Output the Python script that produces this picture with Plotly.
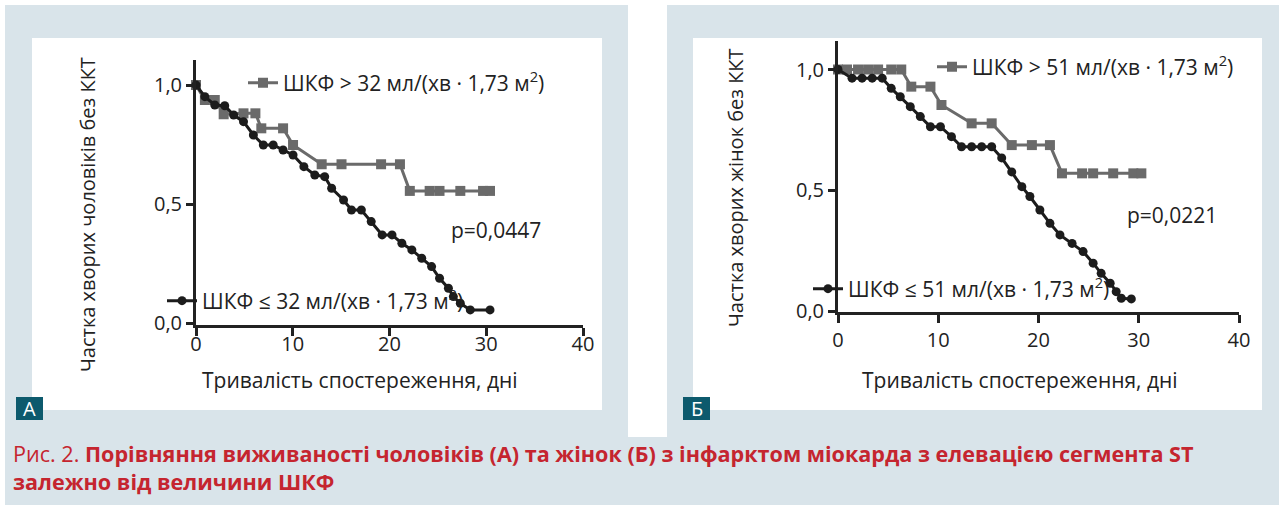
import plotly.graph_objects as go

W, H = 1285, 505

# ---------- data ----------
# Panel A (men)
a_hi_x = [0, 0.92, 1.94, 2.86, 4.91, 6.14, 6.75, 9.0, 10.03, 12.99, 15.04, 19.13, 21.08, 22.10, 24.15,
          25.17, 27.32, 29.67, 30.39]
a_hi_y = [1.0, 0.937, 0.937, 0.877, 0.881, 0.881, 0.818, 0.818, 0.748, 0.667, 0.667, 0.667, 0.667,
          0.555, 0.555, 0.555, 0.555, 0.555, 0.555]
a_lo_x = [0, 0.92, 1.94, 2.97, 3.89, 4.91, 5.93, 6.96, 7.98, 9.0, 10.03, 11.15, 12.28, 13.30, 14.02,
          15.25, 16.07, 17.09, 18.11, 19.24, 20.26, 21.28, 22.31, 23.33, 24.35, 25.17, 26.09, 26.60,
          27.32, 28.35, 30.39]
a_lo_y = [1.0, 0.951, 0.916, 0.913, 0.874, 0.846, 0.790, 0.748, 0.748, 0.727, 0.706, 0.657, 0.622, 0.615,
          0.566, 0.517, 0.475, 0.475, 0.426, 0.370, 0.370, 0.335, 0.307, 0.272, 0.237, 0.188, 0.146,
          0.111, 0.083, 0.055, 0.055]

# Panel B (women)
b_hi_x = [0, 0.9, 2.0, 3.0, 4.0, 5.31, 6.31, 7.31, 9.22, 10.32, 13.33, 15.33, 17.33, 19.34, 21.14, 22.34,
          24.35, 25.45, 27.45, 29.46, 30.26]
b_hi_y = [1.0, 1.0, 1.0, 1.0, 1.0, 1.0, 1.0, 0.929, 0.929, 0.853, 0.777, 0.777, 0.687, 0.687, 0.687,
          0.570, 0.570, 0.570, 0.570, 0.570, 0.570]
b_lo_x = [0, 1.40, 2.40, 3.41, 4.41, 5.31, 6.21, 7.21, 8.21, 9.22, 10.22, 11.32, 12.32, 13.33, 14.33,
          15.33, 16.33, 17.33, 18.34, 19.14, 20.14, 21.14, 22.14, 23.35, 24.45, 25.45, 26.25, 27.15,
          27.75, 28.26, 29.26]
b_lo_y = [1.0, 0.964, 0.964, 0.964, 0.964, 0.922, 0.887, 0.846, 0.805, 0.763, 0.763, 0.722, 0.680,
          0.680, 0.680, 0.680, 0.634, 0.576, 0.515, 0.474, 0.418, 0.363, 0.315, 0.280, 0.246, 0.198,
          0.156, 0.115, 0.080, 0.053, 0.050]

x_ticks = [0, 10, 20, 30, 40]
y_ticks = [0, 0.5, 1.0]
y_ticktext = ["0,0", "0,5", "1,0"]

name_a_hi = "ШКФ > 32 мл/(хв · 1,73 м<sup>2</sup>)"
name_a_lo = "ШКФ ≤ 32 мл/(хв · 1,73 м<sup>2</sup>)"
name_b_hi = "ШКФ > 51 мл/(хв · 1,73 м<sup>2</sup>)"
name_b_lo = "ШКФ ≤ 51 мл/(хв · 1,73 м<sup>2</sup>)"
p_a = "p=0,0447"
p_b = "p=0,0221"
x_title = "Тривалість спостереження, дні"
y_title_a = "Частка хворих чоловіків без ККТ"
y_title_b = "Частка хворих жінок без ККТ"
caption1 = "Рис. 2. <b>Порівняння виживаності чоловіків (А) та жінок (Б) з інфарктом міокарда з елевацією сегмента ST</b>"
caption2 = "<b>залежно від величини ШКФ</b>"

# ---------- styling ----------
FONT = "Open Sans"
TXT = "#222222"
GRAY = "#6a6a6a"
BLACK = "#1c1c1c"
BLUE_BG = "#d9e4ea"
TEAL = "#0d5a6d"
RED = "#c5252f"


def px(x):
    return x / W


def py(y):
    return 1 - y / H


fig = go.Figure()

def add_curve(x, y, color, symbol, size, axis, legend, name):
    fig.add_trace(go.Scatter(
        x=x, y=y, mode="lines+markers", name=name,
        line=dict(color=color, width=3),
        marker=dict(color=color, symbol=symbol, size=size),
        xaxis="x" + axis, yaxis="y" + axis, legend=legend, cliponaxis=False,
    ))

add_curve(a_hi_x, a_hi_y, GRAY, "square", 10, "", "legend", name_a_hi)
add_curve(a_lo_x, a_lo_y, BLACK, "circle", 9, "", "legend2", name_a_lo)
add_curve(b_hi_x, b_hi_y, GRAY, "square", 10, "2", "legend3", name_b_hi)
add_curve(b_lo_x, b_lo_y, BLACK, "circle", 9, "2", "legend4", name_b_lo)

tickfont = dict(family=FONT, size=20, color=TXT)

def xaxis(left, right, standoff=0):
    return dict(domain=[px(left), px(right)], range=[0, 40], tickvals=x_ticks,
                showline=True, linewidth=3, linecolor=TXT, ticks="outside", ticklen=8,
                tickwidth=2.5, tickcolor=TXT, showgrid=False, zeroline=False,
                tickfont=tickfont, fixedrange=True, automargin=False,
                ticklabelstandoff=standoff)

def yaxis(top, bottom, y0px, y1px):
    # y0px: pixel of value 0, y1px: pixel of value 1
    scale = y0px - y1px
    rng = [(y0px - bottom) / scale, (y0px - top) / scale]
    return dict(domain=[py(bottom), py(top)], range=rng, tickvals=y_ticks, ticktext=y_ticktext,
                showline=True, linewidth=3, linecolor=TXT, ticks="outside", ticklen=7,
                tickwidth=2.5, tickcolor=TXT, showgrid=False, zeroline=False,
                tickfont=tickfont, fixedrange=True, automargin=False)

legfont = dict(family=FONT, size=21, color=TXT)

def legend(xp, yp):
    return dict(x=px(xp), y=py(yp), xanchor="left", yanchor="middle", bgcolor="rgba(0,0,0,0)",
                borderwidth=0, font=legfont, itemsizing="trace", itemclick=False,
                itemdoubleclick=False)

shapes = [
    dict(type="rect", xref="paper", yref="paper", x0=px(5), x1=px(628), y0=py(437), y1=py(5),
         fillcolor=BLUE_BG, line_width=0, layer="below"),
    dict(type="rect", xref="paper", yref="paper", x0=px(667), x1=px(1279), y0=py(437), y1=py(5),
         fillcolor=BLUE_BG, line_width=0, layer="below"),
    dict(type="rect", xref="paper", yref="paper", x0=px(5), x1=px(1279), y0=py(505), y1=py(437),
         fillcolor=BLUE_BG, line_width=0, layer="below"),
    dict(type="rect", xref="paper", yref="paper", x0=px(32), x1=px(602), y0=py(410), y1=py(38),
         fillcolor="white", line_width=0, layer="below"),
    dict(type="rect", xref="paper", yref="paper", x0=px(693), x1=px(1262), y0=py(410), y1=py(38),
         fillcolor="white", line_width=0, layer="below"),
    dict(type="rect", xref="paper", yref="paper", x0=px(16), x1=px(43), y0=py(420), y1=py(397),
         fillcolor=TEAL, line_width=0, layer="above"),
    dict(type="rect", xref="paper", yref="paper", x0=px(683), x1=px(710), y0=py(420), y1=py(397),
         fillcolor=TEAL, line_width=0, layer="above"),
]

def ann(text, x, y, size=21, color=TXT, xanchor="center", angle=0, xref="paper", yref="paper"):
    return dict(text=text, x=x, y=y, xref=xref, yref=yref, showarrow=False, xanchor=xanchor,
                yanchor="middle", textangle=angle, font=dict(family=FONT, size=size, color=color))

annotations = [
    ann(p_a, 31.0, 0.39, xref="x", yref="y"),
    ann(p_b, 33.3, 0.397, xref="x2", yref="y2"),
    ann(x_title, px(360), py(380)),
    ann(x_title, px(1020), py(380)),
    ann(y_title_a, px(88), py(215), size=20, angle=-90),
    ann(y_title_b, px(735), py(188), size=20, angle=-90),
    ann("А", px(29.5), py(408.5), size=20, color="white"),
    ann("Б", px(696.5), py(408.5), size=20, color="white"),
    ann(caption1, px(11), py(453), size=21.6, color=RED, xanchor="left"),
    ann(caption2, px(11), py(481), size=21.6, color=RED, xanchor="left"),
]

fig.update_layout(
    width=W, height=H, margin=dict(l=0, r=0, t=0, b=0, autoexpand=False),
    paper_bgcolor="white", plot_bgcolor="rgba(0,0,0,0)",
    xaxis=dict(xaxis(196, 583, standoff=-9), anchor="y"),
    yaxis=dict(yaxis(60, 325, 323, 85), anchor="x"),
    xaxis2=dict(xaxis(838, 1239), anchor="y2"),
    yaxis2=dict(yaxis(41, 312, 311, 69.5), anchor="x2"),
    legend=legend(243, 83),
    legend2=legend(162, 301),
    legend3=legend(932, 67),
    legend4=legend(808, 289),
    shapes=shapes,
    annotations=annotations,
    showlegend=True,
)

page_fix = (
    "var d=document.getElementById('{plot_id}');"
    "d.style.position='fixed';d.style.left='0px';d.style.top='0px';"
    "document.body.style.margin='0px';"
    "document.documentElement.style.overflow='hidden';"
    "document.body.style.overflow='hidden';"
)

fig.write_html("out.html", config={"displayModeBar": False}, post_script=page_fix)
